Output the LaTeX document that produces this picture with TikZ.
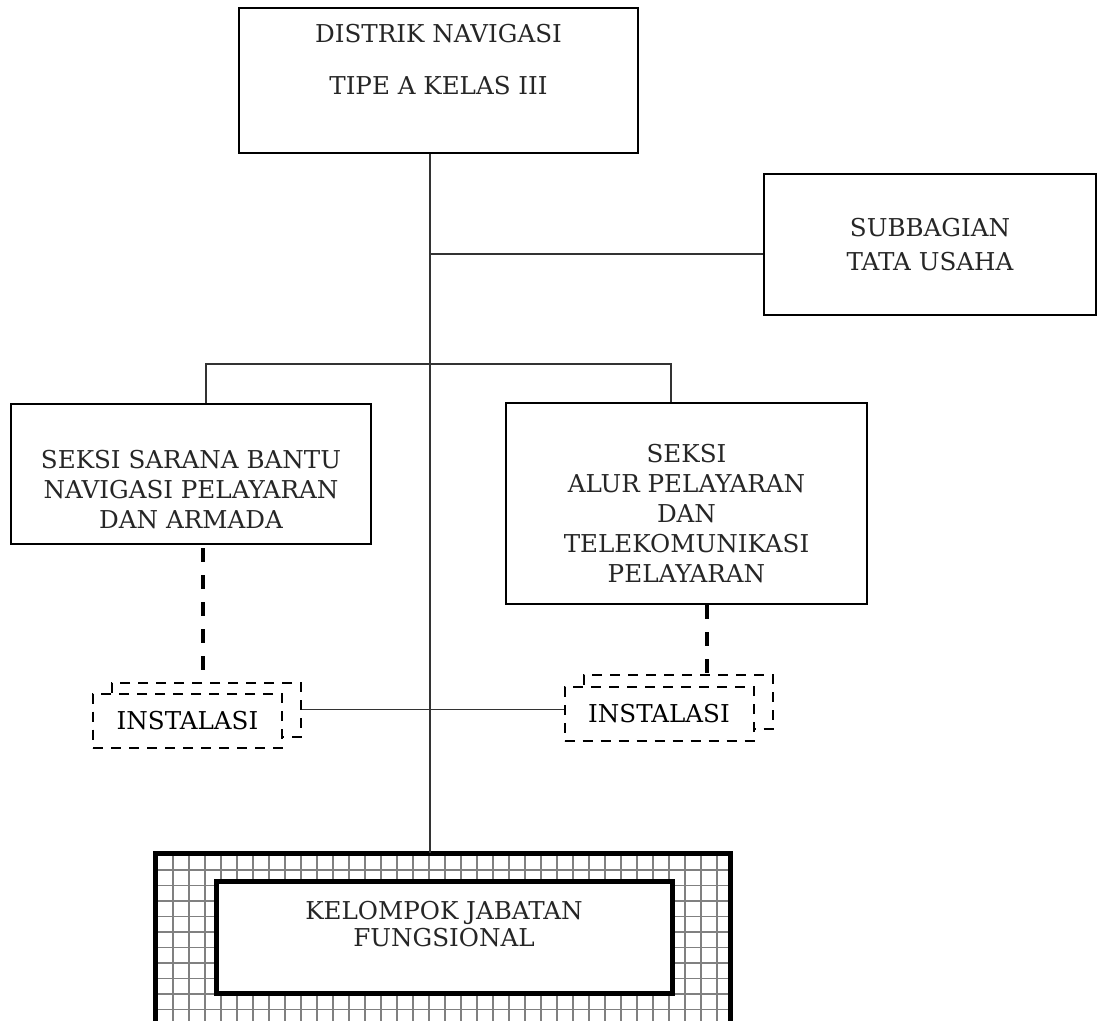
\documentclass[tikz,border=0pt]{standalone}
\usepackage{fontspec}
\setmainfont{DejaVu Serif}
\newcommand{\orgfont}{\fontsize{12.3}{15}\selectfont}
\tikzset{
	unit/.style={draw,line width=1pt,anchor=north west,inner sep=0pt},
	unittext/.style={align=center,font=\orgfont,text=black!85},
	instal/.style={draw,line width=1pt,dash pattern=on 5pt off 4pt,fill=white,
		minimum width=94.5pt,minimum height=27pt,inner sep=0pt,font=\orgfont},
	link/.style={line width=.6pt,black!80},
	dashlink/.style={line width=2pt,dash pattern=on 7pt off 6.5pt},
	gridline/.style={line width=.6pt,black!50},
	heavy/.style={line width=2.5pt}
}

\begin{document}
\begin{tikzpicture}[x=1pt,y=-1pt]
	\useasboundingbox (0,0) rectangle (548.5,510.5);
	
	\node[unit,minimum width=199.5pt,minimum height=72.5pt,
		label={[unittext,yshift=10.25pt]center:{DISTRIK NAVIGASI\\[11pt]TIPE A KELAS III}}]
		(distrik) at (119,3.5) {};
	\node[unit,minimum width=166pt,minimum height=70.5pt,
		label={[unittext]center:{SUBBAGIAN\\[2pt]TATA USAHA}}]
		(tatausaha) at (381.5,86.5) {};
	\node[unit,minimum width=180pt,minimum height=70pt,
		label={[unittext,yshift=-8pt]center:{SEKSI SARANA BANTU\\NAVIGASI PELAYARAN\\DAN ARMADA}}]
		(sarana) at (5,201.5) {};
	\node[unit,minimum width=180.5pt,minimum height=100.5pt,
		label={[unittext,yshift=-5pt]center:{SEKSI\\ALUR PELAYARAN\\DAN\\TELEKOMUNIKASI\\PELAYARAN}}]
		(alur) at (252.5,201) {};
	
	% instalasi, two boxes each
	\node[instal] (instLb) at (103.25,354.75) {};
	\node[instal] (instL) at (93.75,360.25) {INSTALASI};
	\node[instal] (instRb) at (339,350.75) {};
	\node[instal] (instR) at (329.5,357) {INSTALASI};
	
	% kelompok jabatan fungsional
	\coordinate (jabNW) at (77.5,426.5);
	\coordinate (jabSE) at (365,520);
	\begin{scope}
		\clip (jabNW) rectangle (jabSE);
		\foreach \gx in {86.5,94.5,...,366}
			\draw[gridline] (\gx,426.5) -- (\gx,520);
		\foreach \gy in {435,442.75,...,520}
			\draw[gridline] (77.5,\gy) -- (365,\gy);
	\end{scope}
	\draw[heavy] (jabNW) rectangle (jabSE);
	\node[heavy,draw,fill=white,minimum width=228pt,minimum height=56pt,inner sep=0pt,
		label={[unittext,yshift=6.5pt]center:{KELOMPOK JABATAN\\[-1.5pt]FUNGSIONAL}}]
		(fungsional) at (222,468.5) {};
	
	% garis
	\coordinate (trunk) at (215,0);
	\coordinate (tuY) at (215,127);
	\coordinate (barL) at (103,182);
	\coordinate (barR) at (335.5,182);
	\coordinate (dl) at (101.5,0);
	\coordinate (dr) at (353.5,0);
	\draw[link] (distrik.south -| trunk) -- (trunk |- jabNW);
	\draw[link] (tuY) -- (tuY -| tatausaha.west);
	\draw[link] (barL |- sarana.north) -- (barL) -- (barR) -- (barR |- alur.north);
	\draw[link] (instLb.east) -- (instLb.east -| instR.west);
	\draw[dashlink,dash phase=12pt] (sarana.south -| dl) -- (instLb.north -| dl);
	\draw[dashlink] (alur.south -| dr) -- (instRb.north -| dr);
\end{tikzpicture}
\end{document}
